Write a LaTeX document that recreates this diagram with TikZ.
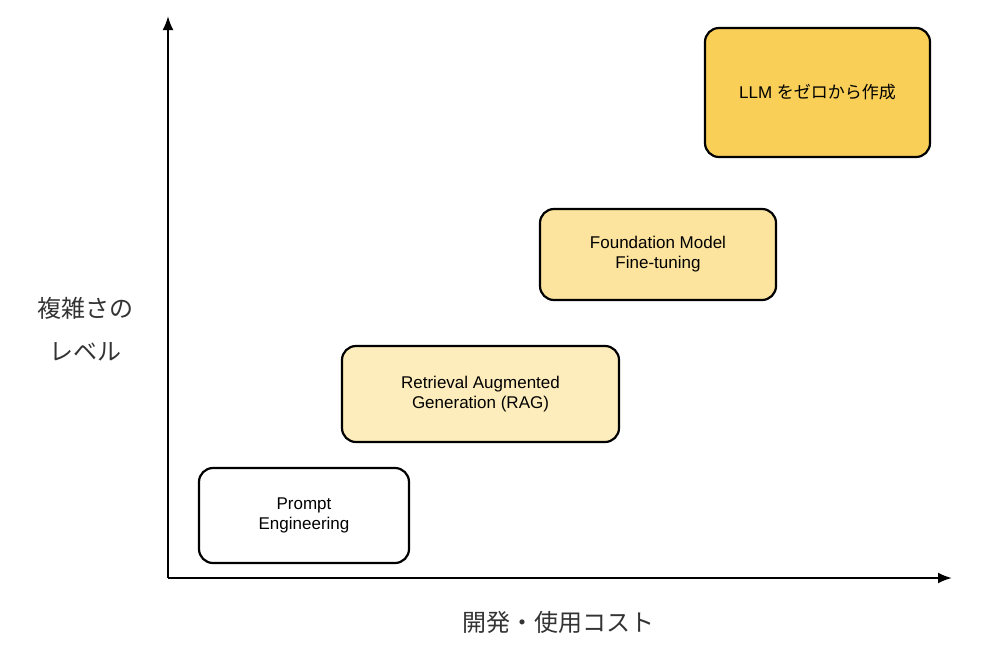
\documentclass[tikz,border=0pt]{standalone}
\usetikzlibrary{arrows.meta}
\usepackage{fontspec}
\setmainfont{Liberation Sans}
\newfontfamily\cjk{Noto Sans CJK JP}
\definecolor{cRAG}{HTML}{FDEDBC}
\definecolor{cFT}{HTML}{FCE39E}
\definecolor{cLLM}{HTML}{F9CF58}
\begin{document}
\begin{tikzpicture}[x=1pt,y=-1pt,
  box/.style={draw=black,line width=2.2pt,rounded corners=14pt,align=center,font=\fontsize{17}{20}\selectfont,inner sep=0pt},
  ax/.style={line width=2.2pt,-{Latex[length=14pt,width=11pt]}},
  lab/.style={font=\cjk\fontsize{24}{30}\selectfont,color=black!80}]
\useasboundingbox (0,0) rectangle (1000,651);
\fill[white] (0,0) rectangle (1000,651);
\coordinate (o) at (168,578);
\coordinate (yt) at (168,16);
\coordinate (xt) at (952,578);
\draw[ax] (o) -- (yt);
\draw[ax] (o) -- (xt);
\node[box,minimum width=210pt,minimum height=95pt] (pe) at (304,515.5) {Prompt\\Engineering};
\node[box,fill=cRAG,minimum width=277pt,minimum height=96pt] (rag) at (480.5,394) {Retrieval Augmented\\Generation (RAG)};
\node[box,fill=cFT,minimum width=236pt,minimum height=91pt] (ft) at (658,254.5) {Foundation Model\\Fine-tuning};
\node[box,fill=cLLM,minimum width=225pt,minimum height=129pt] (llm) at (817.5,92.5) {LLM {\cjk をゼロから作成}};
\node[lab] (yl1) at (85,308) {複雑さの};
\node[lab] (yl2) at (85,352) {レベル};
\node[lab] (xl) at (558,622) {開発・使用コスト};
\end{tikzpicture}
\end{document}
